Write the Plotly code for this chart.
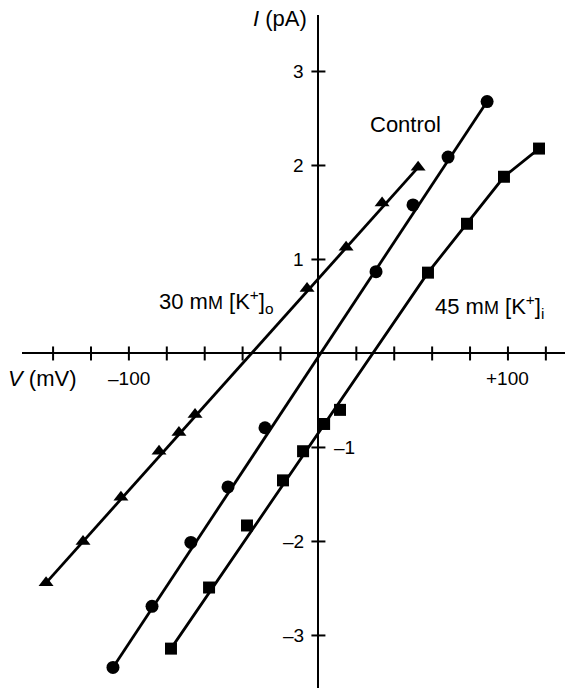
import plotly.graph_objects as go

# ---- data (V in mV, I in pA) ----
tri_V = [-143.7, -124.2, -104.2, -84.1, -73.6, -65.1, -6.0, 14.6, 33.6, 52.6]
tri_I = [-2.44, -2.00, -1.53, -1.04, -0.84, -0.65, 0.69, 1.13, 1.60, 1.98]

circ_V = [-108.4, -87.8, -67.3, -47.7, -28.2, 30.4, 49.9, 68.4, 89.0]
circ_I = [-3.34, -2.69, -2.01, -1.42, -0.79, 0.87, 1.58, 2.09, 2.68]

sq_V = [-77.8, -57.7, -37.7, -18.7, -8.1, 3.0, 11.4, 57.8, 78.4, 97.9, 116.4]
sq_I = [-3.14, -2.49, -1.83, -1.35, -1.04, -0.75, -0.60, 0.86, 1.38, 1.88, 2.18]

# fitted lines drawn through the points
tri_fit_V = [-143.7, 52.6]
tri_fit_I = [-2.44, 1.98]
circ_fit_V = [-108.4, 89.0]
circ_fit_I = [-3.34, 2.68]
sq_fit_V = [-77.8, 57.8, 97.9, 116.4]
sq_fit_I = [-3.14, 0.86, 1.88, 2.18]

x_ticks = [-140, -120, -100, -80, -60, -40, -20, 20, 40, 60, 80, 100, 120]
y_ticks = [-3, -2, -1, 1, 2, 3]
x_tick_labels = {-100: "\u2013100", 100: "+100"}
y_tick_labels = {3: "3", 2: "2", 1: "1", -1: "\u20131", -2: "\u20132", -3: "\u20133"}

FONT = "Liberation Sans, Arial, sans-serif"
FS_NUM = 19
FS_TXT = 22

fig = go.Figure()

for fv, fi in [(tri_fit_V, tri_fit_I), (circ_fit_V, circ_fit_I), (sq_fit_V, sq_fit_I)]:
    fig.add_trace(go.Scatter(x=fv, y=fi, mode="lines",
                             line=dict(color="black", width=2.8), showlegend=False,
                             hoverinfo="skip"))

fig.add_trace(go.Scatter(x=tri_V, y=tri_I, mode="markers", name="30 mM [K+]o",
                         marker=dict(symbol="triangle-up", size=13, color="black"),
                         showlegend=False))
fig.add_trace(go.Scatter(x=circ_V, y=circ_I, mode="markers", name="Control",
                         marker=dict(symbol="circle", size=13, color="black"),
                         showlegend=False))
fig.add_trace(go.Scatter(x=sq_V, y=sq_I, mode="markers", name="45 mM [K+]i",
                         marker=dict(symbol="square", size=12, color="black"),
                         showlegend=False))

shapes = []
for v in x_ticks:
    shapes.append(dict(type="line", xref="x", yref="y", x0=v, x1=v,
                       ysizemode="pixel", yanchor=0, y0=-7, y1=7,
                       line=dict(color="black", width=2)))
for v in y_ticks:
    shapes.append(dict(type="line", xref="x", yref="y", y0=v, y1=v,
                       xsizemode="pixel", xanchor=0, x0=-7, x1=7,
                       line=dict(color="black", width=2)))

annotations = []
for v, t in x_tick_labels.items():
    annotations.append(dict(x=v, y=0, xref="x", yref="y", text=t, showarrow=False,
                            xanchor="center", yanchor="middle", yshift=-25,
                            font=dict(family=FONT, size=FS_NUM, color="black")))
for v, t in y_tick_labels.items():
    right = v == -1
    annotations.append(dict(x=0, y=v, xref="x", yref="y", text=t, showarrow=False,
                            xanchor="left" if right else "right", yanchor="middle",
                            xshift=14 if right else -12,
                            font=dict(family=FONT, size=FS_NUM, color="black")))

annotations += [
    dict(x=0, y=1, xref="x", yref="paper", text="<i>I</i> (pA)", showarrow=False,
         xanchor="right", yanchor="middle", xshift=-9, yshift=-3,
         font=dict(family=FONT, size=FS_TXT, color="black")),
    dict(x=0, y=0, xref="paper", yref="y", text="<i>V</i> (mV)", showarrow=False,
         xanchor="left", yanchor="middle", xshift=-16, yshift=-25,
         font=dict(family=FONT, size=FS_TXT, color="black")),
    dict(x=46, y=2.44, xref="x", yref="y", text="Control", showarrow=False,
         xanchor="center", yanchor="middle",
         font=dict(family=FONT, size=FS_TXT, color="black")),
    dict(x=-54, y=0.55, xref="x", yref="y",
         text="30 m<span style='font-size:18px'>M</span> [K<sup>+</sup>]<sub>o</sub>",
         showarrow=False, xanchor="center", yanchor="middle",
         font=dict(family=FONT, size=FS_TXT, color="black")),
    dict(x=90.5, y=0.50, xref="x", yref="y",
         text="45 m<span style='font-size:18px'>M</span> [K<sup>+</sup>]<sub>i</sub>",
         showarrow=False, xanchor="center", yanchor="middle",
         font=dict(family=FONT, size=FS_TXT, color="black")),
]

fig.update_layout(
    width=565, height=688,
    margin=dict(l=22, r=0, t=15, b=0),
    paper_bgcolor="white", plot_bgcolor="white",
    showlegend=False,
    shapes=shapes, annotations=annotations,
    xaxis=dict(range=[-156.4, 130.1], showgrid=False, showticklabels=False,
               ticks="", showline=False, zeroline=True, zerolinecolor="black",
               zerolinewidth=2, fixedrange=True),
    yaxis=dict(range=[-3.559, 3.601], showgrid=False, showticklabels=False,
               ticks="", showline=False, zeroline=True, zerolinecolor="black",
               zerolinewidth=2, fixedrange=True),
)

fig.write_html("out.html")
